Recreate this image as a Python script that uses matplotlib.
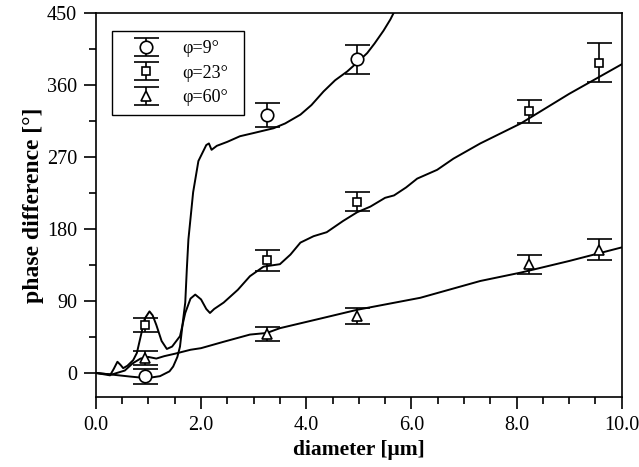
import matplotlib
matplotlib.use("Agg")
import matplotlib.pyplot as plt
from matplotlib.ticker import MultipleLocator, FormatStrFormatter

plt.rcParams['font.family'] = ['Liberation Serif', 'DejaVu Serif']
plt.rcParams['mathtext.fontset'] = 'stix'

# measured data points
x_meas = [0.93, 3.25, 4.97]
phi9_y = [-4, 322, 392]
phi9_err = [9.5, 15, 18]

x23 = [0.93, 3.25, 4.97, 8.23, 9.57]
phi23_y = [60, 141, 214, 327, 388]
phi23_err = [8.5, 13, 12, 14, 24]

x60 = [0.93, 3.25, 4.97, 8.23, 9.57]
phi60_y = [18.5, 49, 71, 136, 154]
phi60_err = [9, 8.5, 10, 12, 13]

# theoretical curves
curveA_x = [0.0, 0.3, 0.65, 0.97, 1.22, 1.4, 1.47, 1.55, 1.6, 1.66, 1.7, 1.73, 1.76, 1.85,
            1.95, 2.04, 2.1, 2.15, 2.2, 2.3, 2.5, 2.74, 3.0, 3.38, 3.6, 3.89, 4.1, 4.33,
            4.55, 4.78, 5.0, 5.16, 5.3, 5.47, 5.6, 5.7]
curveA_y = [0, -2, -4.5, -6.5, -4, 2, 8, 20, 33, 67, 88, 130, 167, 226,
            265, 277, 285, 287, 279, 284, 289, 296, 300, 306, 312, 323, 335, 352,
            366, 377, 390, 400, 412, 428, 442, 455]

curveB_x = [0.0, 0.27, 0.34, 0.41, 0.47, 0.52, 0.6, 0.71, 0.78, 0.85, 0.93, 1.02, 1.08, 1.15,
            1.25, 1.35, 1.45, 1.6, 1.7, 1.8, 1.89, 2.0, 2.1, 2.17, 2.25, 2.43, 2.7,
            2.93, 3.19, 3.5, 3.7, 3.89, 4.14, 4.39, 4.7, 4.97, 5.22, 5.5, 5.67, 5.9,
            6.11, 6.49, 6.8, 7.31, 8.08, 9.0, 10.0]
curveB_y = [0, -3, 5, 14, 10, 6, 9, 16, 25, 45, 68, 77, 72, 60,
            40, 30, 33, 46, 75, 93, 98, 92, 80, 75, 80, 88, 104,
            121, 133, 136, 148, 163, 171, 176, 190, 201, 208, 219, 222, 232,
            243, 254, 268, 287, 312, 349, 386]

curveC_x = [0.0, 0.3, 0.55, 0.7, 0.85, 1.0, 1.15, 1.3, 1.5, 1.8, 2.0, 2.43, 2.93, 3.25,
            3.5, 4.27, 4.97, 6.17, 7.31, 8.08, 9.0, 10.0]
curveC_y = [0, -2, 3, 12, 18, 20, 18, 21, 24, 29, 31, 39, 48, 50,
            56, 68, 79, 94, 115, 125.5, 140, 157]

x_ticks = [0, 2, 4, 6, 8, 10]
y_ticks = [0, 90, 180, 270, 360, 450]

fig = plt.figure(figsize=(6.39, 4.67), dpi=100)
ax = fig.add_axes([0.150, 0.150, 0.823, 0.822])

lw = 1.4
ax.plot(curveA_x, curveA_y, color='black', lw=lw)
ax.plot(curveB_x, curveB_y, color='black', lw=lw)
ax.plot(curveC_x, curveC_y, color='black', lw=lw)

ekw = dict(color='black', ecolor='black', elinewidth=1.2, capthick=1.5, capsize=9,
           linestyle='none', markerfacecolor='white', markeredgecolor='black',
           markeredgewidth=1.2)
ax.errorbar(x_meas, phi9_y, yerr=phi9_err, marker='o', markersize=9, label='φ=9°', **ekw)
ax.errorbar(x23, phi23_y, yerr=phi23_err, marker='s', markersize=6, label='φ=23°', **ekw)
ax.errorbar(x60, phi60_y, yerr=phi60_err, marker='^', markersize=7, label='φ=60°', **ekw)

ax.set_xlim(0, 10)
ax.set_ylim(-30, 450)
ax.set_xticks(x_ticks)
ax.set_yticks(y_ticks)
ax.xaxis.set_major_formatter(FormatStrFormatter('%.1f'))
ax.xaxis.set_minor_locator(MultipleLocator(0.5))
ax.yaxis.set_minor_locator(MultipleLocator(45))
ax.tick_params(which='both', direction='out', top=False, right=False, labelsize=14.5, width=1.2)
ax.tick_params(which='major', length=8.5, pad=5)
ax.tick_params(which='minor', length=5)
for s in ax.spines.values():
    s.set_linewidth(1.2)

ax.set_xlabel('diameter [μm]', fontsize=15.5, fontweight='bold', labelpad=4)
ax.set_ylabel('phase difference [°]', fontsize=17, fontweight='bold', labelpad=2)

leg = ax.legend(loc='upper left', bbox_to_anchor=(0.03, 0.5, 0.251, 0.453), mode='expand',
                borderaxespad=0, fontsize=13, frameon=True, fancybox=False,
                edgecolor='black', framealpha=1, handlelength=2.8, handletextpad=0.6,
                borderpad=0.5, labelspacing=0.42)
leg.get_frame().set_linewidth(1.0)

fig.savefig('out.png', dpi=100)
